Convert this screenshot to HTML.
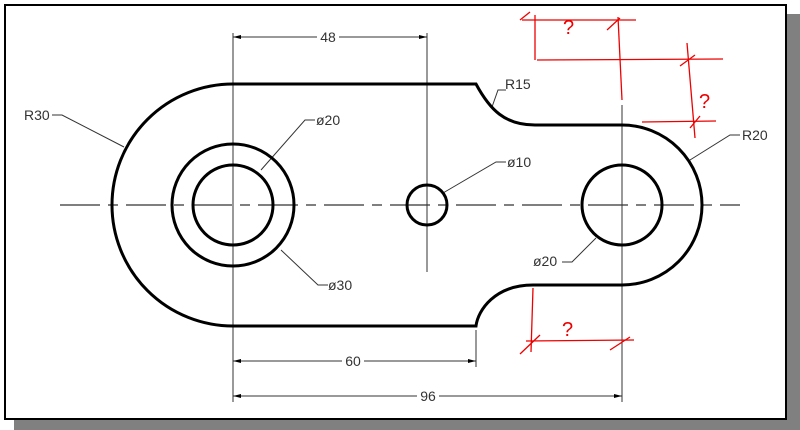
<!DOCTYPE html>
<html><head><style>html,body{margin:0;padding:0;background:#fff;}svg{display:block}</style></head>
<body>
<svg width="800" height="430" viewBox="0 0 800 430" xmlns="http://www.w3.org/2000/svg" font-family="Liberation Sans, sans-serif">
<rect x="14" y="14" width="786" height="416" fill="#808080"/>
<rect x="5" y="5" width="781" height="414" fill="#fff" stroke="#000" stroke-width="2"/>
<line x1="60" y1="205" x2="740" y2="205" stroke="#333" stroke-width="1.2" stroke-dasharray="40,8,10,8"/>
<g stroke="#333" stroke-width="1" fill="none">
<line x1="233" y1="33" x2="233" y2="402"/>
<line x1="427" y1="33" x2="427" y2="272"/>
<line x1="622" y1="105" x2="622" y2="402"/>
<line x1="476" y1="330" x2="476" y2="367"/>
<line x1="233" y1="37" x2="427" y2="37"/>
<line x1="233" y1="361" x2="476" y2="361"/>
<line x1="233" y1="396" x2="622" y2="396"/>
<polyline points="52,115 62,115 124,147"/>
<polyline points="315,120 305,120 261,170"/>
<polyline points="328,285 318,285 281,250"/>
<polyline points="506,162 496,162 443,193"/>
<polyline points="562,262 572,262 596,238"/>
<polyline points="740,135 730,135 690,160"/>
<polyline points="506,90 498,90 492,107"/>
</g>
<g fill="#000">
<polygon points="233,37 241,35 241,39"/><polygon points="427,37 419,35 419,39"/>
<polygon points="233,361 241,359 241,363"/><polygon points="476,361 468,359 468,363"/>
<polygon points="233,396 241,394 241,398"/><polygon points="622,396 614,394 614,398"/>
</g>
<g stroke="#000" stroke-width="3" fill="none">
<path d="M233 84 A121 121 0 0 0 233 326 L476 326 C478 310 495 285 533 285 L622 285 A80 80 0 0 0 622 125 L535 125 C505 125 490 110 476 84 Z"/>
<circle cx="233" cy="205" r="61"/>
<circle cx="233" cy="205" r="40"/>
<circle cx="427" cy="205" r="20"/>
<circle cx="622" cy="205" r="40"/>
</g>
<g font-size="14" fill="#333" text-anchor="middle">
<rect x="317" y="29" width="22" height="16" fill="#fff"/><text x="328" y="42">48</text>
<rect x="342" y="353" width="22" height="16" fill="#fff"/><text x="353" y="366">60</text>
<rect x="417" y="388" width="22" height="16" fill="#fff"/><text x="428" y="401">96</text>
</g>
<g font-size="14" fill="#333">
<text x="24" y="120">R30</text>
<text x="316" y="125">ø20</text>
<text x="328" y="290">ø30</text>
<text x="507" y="167">ø10</text>
<text x="533" y="266">ø20</text>
<text x="742" y="140">R20</text>
<text x="505" y="89">R15</text>
</g>
<g stroke="#e00" stroke-width="1.3" fill="none">
<line x1="522" y1="20" x2="636" y2="20"/>
<line x1="535" y1="15" x2="535" y2="60"/>
<line x1="618" y1="17" x2="622" y2="100"/>
<line x1="537" y1="60" x2="723" y2="59"/>
<line x1="687" y1="43" x2="695" y2="138"/>
<line x1="642" y1="122" x2="716" y2="121"/>
<line x1="520" y1="20" x2="530" y2="12"/><line x1="607" y1="30" x2="620" y2="18"/>
<line x1="680" y1="66" x2="695" y2="55"/><line x1="690" y1="128" x2="700" y2="116"/>
<line x1="533" y1="288" x2="531" y2="352"/>
<line x1="526" y1="341" x2="634" y2="340"/>
<line x1="520" y1="354" x2="540" y2="335"/><line x1="610" y1="350" x2="630" y2="337"/>
</g>
<g fill="#e00" font-size="20" font-family="Liberation Sans, sans-serif">
<text x="563" y="34">?</text>
<text x="699" y="108">?</text>
<text x="562" y="336">?</text>
</g>
</svg>
</body></html>
